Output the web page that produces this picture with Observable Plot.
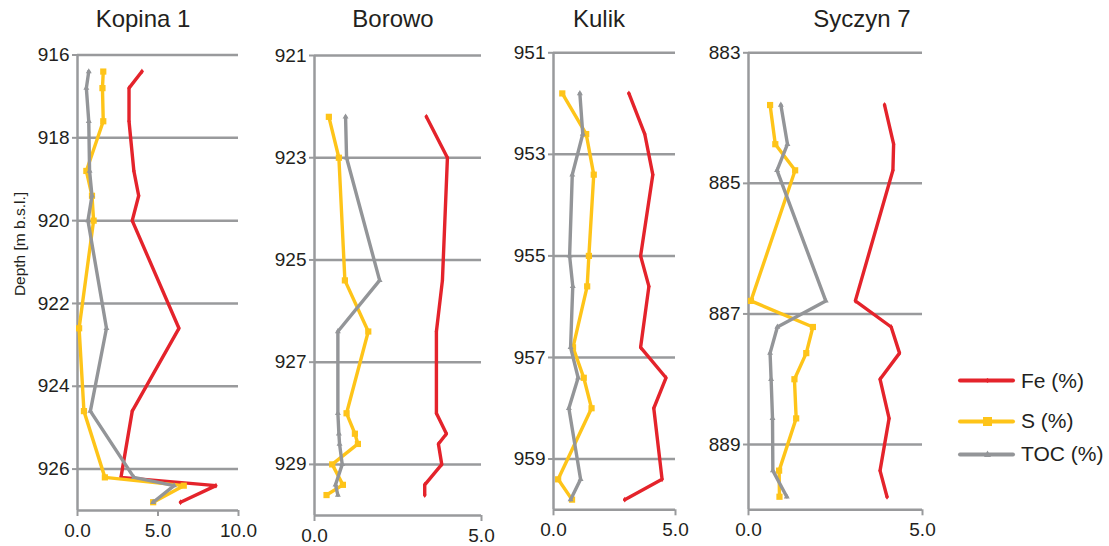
<!DOCTYPE html>
<html><head><meta charset="utf-8">
<script src="https://cdn.jsdelivr.net/npm/d3@7"></script>
<script src="https://cdn.jsdelivr.net/npm/@observablehq/plot@0.6"></script>
<style>
html,body{margin:0;padding:0;background:#fff;}
body{font-family:"Liberation Sans",Arial,sans-serif;color:#231f20;}
#wrap{position:relative;width:1109px;height:546px;overflow:hidden;}
.panel{position:absolute;top:0;}
.title{position:absolute;top:6px;font-size:24px;line-height:26px;white-space:nowrap;transform:translateX(-50%);}
#ylab{position:absolute;left:20px;top:244px;font-size:15.5px;white-space:nowrap;transform:translate(-50%,-50%) rotate(-90deg);}
.leg{position:absolute;left:956px;display:flex;align-items:center;font-size:21px;}
.leg svg{margin-right:3px;}
</style>
</head><body>
<div id="wrap"></div>
<script>
// ---- data ----
const seriesNames = ["Fe (%)", "S (%)", "TOC (%)"];
const siteNames = ["Kopina 1", "Borowo", "Kulik", "Syczyn 7"];

const kopinaDepth = [916.4, 916.8, 917.6, 918.8, 919.4, 920.0, 922.6, 924.6, 926.2, 926.4, 926.8];
const kopinaFe    = [4.0, 3.2, 3.2, 3.5, 3.8, 3.4, 6.3, 3.4, 2.7, 8.6, 6.4];
const kopinaS     = [1.6, 1.55, 1.6, 0.55, 0.9, 1.0, 0.1, 0.4, 1.7, 6.6, 4.7];
const kopinaTOC   = [0.7, 0.55, 0.7, 0.75, 0.9, 0.65, 1.8, 0.8, 3.5, 6.0, 4.7];

const borowoDepth = [922.2, 923.0, 925.4, 926.4, 928.0, 928.4, 928.6, 929.0, 929.4, 929.6];
const borowoFe    = [3.35, 3.98, 3.83, 3.65, 3.65, 3.95, 3.71, 3.81, 3.30, 3.30];
const borowoS     = [0.43, 0.73, 0.91, 1.61, 0.96, 1.21, 1.30, 0.53, 0.85, 0.36];
const borowoTOC   = [0.93, 0.96, 1.95, 0.70, 0.70, 0.73, 0.75, 0.83, 0.63, 0.70];

const kulikDepth = [951.8, 952.6, 953.4, 955.0, 955.6, 956.8, 957.4, 958.0, 959.4, 959.8];
const kulikFe    = [3.09, 3.74, 4.07, 3.57, 3.91, 3.57, 4.61, 4.11, 4.45, 2.92];
const kulikS     = [0.36, 1.34, 1.65, 1.45, 1.38, 0.80, 1.24, 1.56, 0.19, 0.76];
const kulikTOC   = [1.08, 1.20, 0.77, 0.66, 0.79, 0.70, 1.01, 0.63, 1.11, 0.70];

const syczynDepth = [883.8, 884.4, 884.8, 886.8, 887.2, 887.6, 888.0, 888.6, 889.4, 889.8];
const syczynFe    = [3.91, 4.17, 4.15, 3.07, 4.10, 4.34, 3.78, 4.04, 3.78, 3.98];
const syczynS     = [0.62, 0.77, 1.34, 0.07, 1.85, 1.66, 1.32, 1.37, 0.88, 0.89];
const syczynTOC   = [0.93, 1.12, 0.82, 2.22, 0.83, 0.62, 0.65, 0.69, 0.70, 1.10];

const kopinaYTicks = [916, 918, 920, 922, 924, 926];
const borowoYTicks = [921, 923, 925, 927, 929];
const kulikYTicks  = [951, 953, 955, 957, 959];
const syczynYTicks = [883, 885, 887, 889];
const kopinaXTicks = [0, 5, 10];
const otherXTicks  = [0, 5];

// ---- styles / layout ----
const colors = {"Fe (%)": "#e4232b", "S (%)": "#fec419", "TOC (%)": "#939598"};
const symbols = {"Fe (%)": "diamond", "S (%)": "square", "TOC (%)": "triangle"};
const radii = {"Fe (%)": 1.8, "S (%)": 3.5, "TOC (%)": 2.2};
const grid = "#999a9c";
const ink = "#231f20";
const font = "'Liberation Sans', Arial, sans-serif";

const panels = [
  {name: siteNames[0], depth: kopinaDepth, vals: [kopinaFe, kopinaS, kopinaTOC], ydom: [916, 927], xdom: [0, 10], yticks: kopinaYTicks, xticks: kopinaXTicks, x0: 77, xw: 161, top: 54.5, bottom: 510, cx: 143},
  {name: siteNames[1], depth: borowoDepth, vals: [borowoFe, borowoS, borowoTOC], ydom: [921, 930], xdom: [0, 5], yticks: borowoYTicks, xticks: otherXTicks, x0: 314, xw: 167, top: 55, bottom: 515, cx: 393},
  {name: siteNames[2], depth: kulikDepth, vals: [kulikFe, kulikS, kulikTOC], ydom: [951, 960], xdom: [0, 5], yticks: kulikYTicks, xticks: otherXTicks, x0: 553, xw: 122, top: 52.3, bottom: 509.3, cx: 599},
  {name: siteNames[3], depth: syczynDepth, vals: [syczynFe, syczynS, syczynTOC], ydom: [883, 890], xdom: [0, 5], yticks: syczynYTicks, xticks: otherXTicks, x0: 748, xw: 174, top: 52.3, bottom: 509.3, cx: 862}
];

const wrap = document.getElementById("wrap");
const H = 546, ML = 50, MR = 16;

for (const p of panels) {
  const rows = [];
  seriesNames.forEach((s, i) => p.depth.forEach((d, j) => rows.push({series: s, depth: d, value: p.vals[i][j]})));
  const lineMarks = [];
  for (const s of seriesNames) {
    const sub = rows.filter(r => r.series === s);
    lineMarks.push(Plot.line(sub, {x: "value", y: "depth", stroke: colors[s], strokeWidth: 3.4, strokeLinejoin: "miter"}));
    lineMarks.push(Plot.dot(sub, {x: "value", y: "depth", symbol: symbols[s], fill: colors[s], stroke: "none", r: radii[s]}));
  }
  const chart = Plot.plot({
    width: ML + p.xw + MR,
    height: H,
    marginLeft: ML, marginRight: MR, marginTop: p.top, marginBottom: H - p.bottom,
    x: {domain: p.xdom},
    y: {domain: p.ydom, reverse: true},
    style: {fontFamily: font, fontSize: "19px", color: ink, background: "transparent", overflow: "visible"},
    marks: [
      Plot.ruleY(p.yticks, {stroke: grid, strokeWidth: 2.5}),
      Plot.ruleY([p.ydom[1]], {stroke: grid, strokeWidth: 2.5}),
      Plot.ruleX([p.xdom[0]], {stroke: grid, strokeWidth: 2.5}),
      Plot.axisY({ticks: p.yticks, tickSize: 5, tickPadding: 3, stroke: grid, strokeWidth: 2, fill: ink, tickFormat: d => String(d), label: null, fontSize: 19}),
      Plot.axisX({ticks: p.xticks, tickSize: 6, tickPadding: 7, stroke: grid, strokeWidth: 2, fill: ink, tickFormat: d3.format(".1f"), label: null, fontSize: 19}),
      ...lineMarks
    ]
  });
  chart.classList.add("panel");
  chart.style.left = (p.x0 - ML) + "px";
  wrap.appendChild(chart);
  const t = document.createElement("div");
  t.className = "title";
  t.style.left = p.cx + "px";
  t.textContent = p.name;
  wrap.appendChild(t);
}

const yl = document.createElement("div");
yl.id = "ylab";
yl.textContent = "Depth [m b.s.l.]";
wrap.appendChild(yl);

const legY = [380.5, 421, 454];
seriesNames.forEach((s, i) => {
  const d = document.createElement("div");
  d.className = "leg";
  d.style.top = (legY[i] - 13) + "px";
  d.style.height = "26px";
  const m = symbols[s];
  let marker = "";
  if (m === "square") marker = `<rect x="27" y="6" width="9" height="9" fill="${colors[s]}"/>`;
  else if (m === "triangle") marker = `<path d="M31.5,6.5 L35,13 L28,13 Z" fill="${colors[s]}"/>`;
  else marker = `<path d="M31.5,8 L34,10.5 L31.5,13 L29,10.5 Z" fill="${colors[s]}"/>`;
  d.innerHTML = `<svg width="62" height="21"><line x1="4" y1="10.5" x2="57" y2="10.5" stroke="${colors[s]}" stroke-width="4" stroke-linecap="round"/>${marker}</svg><span>${s}</span>`;
  wrap.appendChild(d);
});
</script>
</body></html>
